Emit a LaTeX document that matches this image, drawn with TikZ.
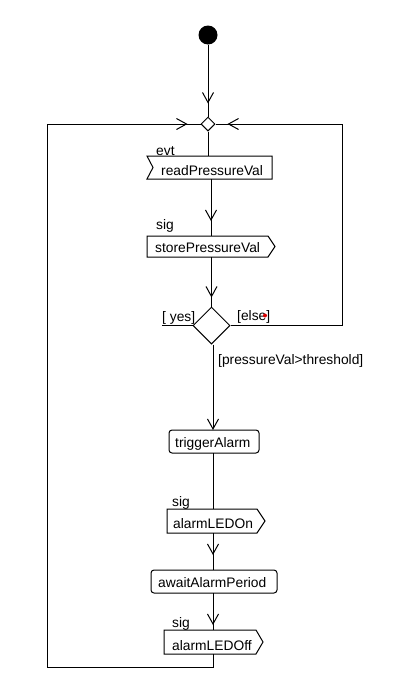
\documentclass[tikz,border=0pt]{standalone}
\usepackage{fontspec}
\setmainfont{Liberation Sans}
\usetikzlibrary{arrows.meta,decorations.markings,shapes.geometric}
\begin{document}
\begin{tikzpicture}[x=1pt,y=-1pt,font=\fontsize{13.8}{16}\selectfont,
  line/.style={draw=black,line width=1pt},
  box/.style={draw=none,rectangle,inner sep=0pt,outer sep=0pt},
  act/.style={draw=black,line width=1pt,rectangle,rounded corners=3pt,inner sep=0pt,outer sep=0pt},
  txt/.style={inner sep=0pt,anchor=base west},
  barb/.style={-{Straight Barb[length=10pt,width=11pt,line width=1pt]}},
  tipat/.style={postaction={decorate},decoration={markings,
     mark=at position #1 with {\arrow{Straight Barb[length=10pt,width=11pt,line width=1pt]}}}},
]
\useasboundingbox (0,0) rectangle (402,691);
\fill[white] (0,0) rectangle (402,691);

% initial and merge
\node[circle,fill=black,minimum size=19pt,inner sep=0pt] (init) at (208,35) {};
\node[diamond,draw=black,line width=1pt,minimum size=14pt,inner sep=0pt] (merge) at (208,124) {};

% readPressureVal (accept event)
\node[box,minimum width=125pt,minimum height=23pt] (rpv) at (209.5,167.5) {};
\draw[line] (rpv.north west) -- (rpv.north east) -- (rpv.south east) -- (rpv.south west) -- ([xshift=6pt]rpv.west) -- cycle;
\node[txt] (rpvt) at (161,175) {readPressureVal};
\node[txt] (evt) at (156,155) {evt};

% storePressureVal (send signal)
\node[box,minimum width=121pt,minimum height=21pt] (spv) at (207.5,246.5) {};
\draw[line] (spv.north west) -- (spv.north east) -- ([xshift=7pt]spv.east) -- (spv.south east) -- (spv.south west) -- cycle;
\node[txt] (spvt) at (155,252.5) {storePressureVal};
\node[txt] (sig1) at (156,229) {sig};

% decision
\node[diamond,draw=black,line width=1pt,minimum size=37pt,inner sep=0pt] (dec) at (211.5,325.5) {};
\node[txt] (yes) at (162,321) {[ yes]};
\node[txt] (else) at (237,320) {[else]};
\node[circle,fill=red!85!black,minimum size=4pt,inner sep=0pt] (reddot) at (265,315.5) {};
\node[txt] (guard) at (218,364) {[pressureVal>threshold]};

% triggerAlarm
\node[act,minimum width=90pt,minimum height=23pt] (trig) at (214,441.5) {};
\node[txt] (trigt) at (175,447) {triggerAlarm};

% alarmLEDOn
\node[box,minimum width=90pt,minimum height=24pt] (aon) at (212,521) {};
\draw[line] (aon.north west) -- (aon.north east) -- ([xshift=8pt]aon.east) -- (aon.south east) -- (aon.south west) -- cycle;
\node[txt] (aont) at (173,528) {alarmLEDOn};
\node[txt] (sig2) at (172,506) {sig};

% awaitAlarmPeriod
\node[act,minimum width=126pt,minimum height=23pt] (await) at (214,581.5) {};
\node[txt] (awaitt) at (158,587) {awaitAlarmPeriod};

% alarmLEDOff
\node[box,minimum width=92pt,minimum height=24pt] (aoff) at (210,642) {};
\draw[line] (aoff.north west) -- (aoff.north east) -- ([xshift=7pt]aoff.east) -- (aoff.south east) -- (aoff.south west) -- cycle;
\node[txt] (aofft) at (172,650) {alarmLEDOff};
\node[txt] (sig3) at (172,627) {sig};

% helper coordinates
\coordinate (lb) at (213,667);
\coordinate (lt) at (47,124);
\coordinate (rt) at (342,124);
\coordinate (yesend) at (162,325.5);
\coordinate (x211) at (211,0);
\coordinate (x213) at (213,0);

% connectors
\draw[line,tipat=-13pt] (init) -- (merge);
\draw[line] (merge.south) -- (merge.south |- rpv.north);
\draw[line,tipat=-15pt] (rpv.south -| x211) -- (spv.north -| x211);
\draw[line,tipat=-9pt] (spv.south -| dec.north) -- (dec.north);
\draw[line] (dec.west) -- (yesend);
\draw[line,tipat=-12pt] (dec.east) -| (rt) -- (merge.east);
\draw[line,barb] (dec.south -| x213) -- (trig.north -| x213);
\draw[line] (trig.south -| x213) -- (aon.north -| x213);
\draw[line,tipat=-15pt] (aon.south -| x213) -- (await.north -| x213);
\draw[line,tipat=-5pt] (await.south -| x213) -- (aoff.north -| x213);
\draw[line,tipat=-13pt] (aoff.south -| lb) -- (lb) -| (lt) -- (merge.west);
\end{tikzpicture}
\end{document}
